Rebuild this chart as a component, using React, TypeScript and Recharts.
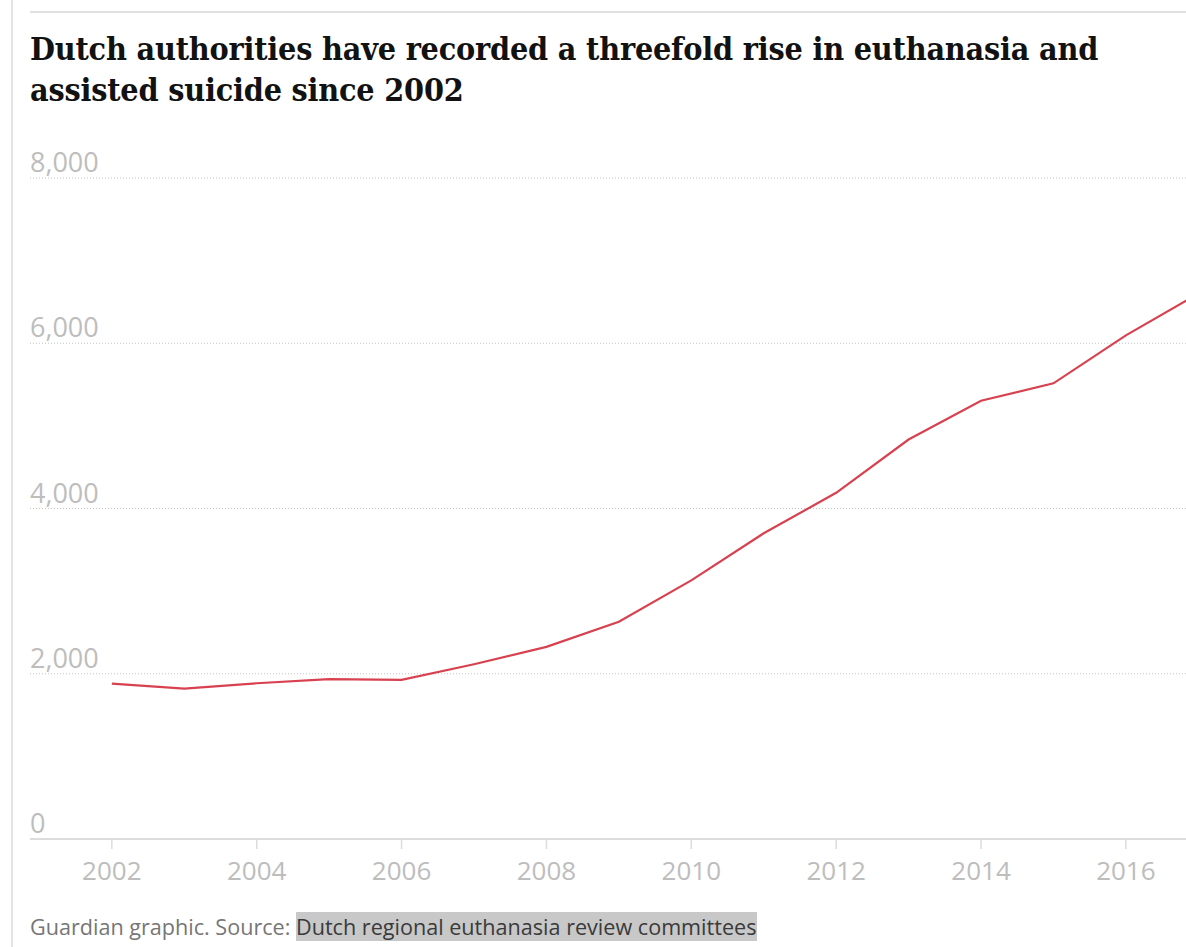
import React from 'react';
import { LineChart, Line, XAxis, YAxis, CartesianGrid } from 'recharts';

// ---- data ----
const years = [2002, 2003, 2004, 2005, 2006, 2007, 2008, 2009, 2010, 2011, 2012, 2013, 2014, 2015, 2016, 2017];
const cases = [1880, 1820, 1885, 1935, 1925, 2115, 2325, 2630, 3130, 3700, 4190, 4835, 5305, 5515, 6095, 6600];
const yTicks = [0, 2000, 4000, 6000, 8000];
const xTicks = [2002, 2004, 2006, 2008, 2010, 2012, 2014, 2016];
const titleLines = [
  'Dutch authorities have recorded a threefold rise in euthanasia and',
  'assisted suicide since 2002',
];
const footerLead = 'Guardian graphic. Source: ';
const footerSource = 'Dutch regional euthanasia review committees';

const data = years.map((y, i) => ({ year: y, cases: cases[i] }));

const SANS = '"Open Sans", "Noto Sans", sans-serif';
const LABEL_GREY = '#bdbdbd';
const RULE_GREY = '#dcdcdc';
const LINE_RED = '#d8414f';

const fmt = (v: number) => v.toLocaleString('en-US');

const renderYTick = (props: any) => {
  const { y, payload } = props;
  return (
    <text x={30} y={Number(y) - 6} textAnchor="start" fill={LABEL_GREY} fontSize={27} fontFamily={SANS}>
      {fmt(payload.value)}
    </text>
  );
};

export default function App() {
  return (
    <div
      style={{
        position: 'absolute',
        left: 0,
        top: 0,
        width: 1186,
        height: 947,
        overflow: 'hidden',
        background: '#ffffff',
      }}
    >
      {/* left rule */}
      <div style={{ position: 'absolute', left: 11, top: 0, width: 2, height: 947, background: '#e4e4e4' }} />
      {/* top rule */}
      <div style={{ position: 'absolute', left: 30, top: 11, width: 1156, height: 2, background: '#e0e0e0' }} />

      {/* title */}
      <div
        style={{
          position: 'absolute',
          left: 30,
          top: 29,
          width: 1150,
          fontFamily: '"DejaVu Serif", serif',
          fontStretch: 'condensed',
          fontWeight: 700,
          fontSize: 32,
          lineHeight: '41px',
          letterSpacing: -0.2,
          color: '#121212',
          whiteSpace: 'nowrap',
        }}
      >
        {titleLines.map((t) => (
          <div key={t}>{t}</div>
        ))}
      </div>

      {/* chart */}
      <div style={{ position: 'absolute', left: 0, top: 0 }}>
        <LineChart
          width={1186}
          height={947}
          data={data}
          margin={{ top: 178, right: 0, left: 0, bottom: 48 }}
        >
          <CartesianGrid
            horizontal={true}
            vertical={false}
            stroke="#c4c4c4"
            strokeDasharray="1 2"
            strokeWidth={1}
          />
          <XAxis
            dataKey="year"
            type="number"
            domain={[2000.87, 2016.83]}
            allowDataOverflow={true}
            ticks={xTicks}
            height={60}
            tickSize={10}
            tickMargin={13}
            axisLine={{ stroke: RULE_GREY, strokeWidth: 2 }}
            tickLine={{ stroke: RULE_GREY, strokeWidth: 1.5 }}
            tick={{ fill: LABEL_GREY, fontSize: 26, fontFamily: SANS }}
            interval={0}
          />
          <YAxis
            type="number"
            domain={[0, 8000]}
            ticks={yTicks}
            width={30}
            axisLine={false}
            tickLine={false}
            tick={renderYTick}
            interval={0}
          />
          <Line
            type="linear"
            dataKey="cases"
            stroke={LINE_RED}
            strokeWidth={2.2}
            dot={false}
            activeDot={false}
            isAnimationActive={false}
          />
        </LineChart>
      </div>

      {/* footer */}
      <div
        style={{
          position: 'absolute',
          left: 30,
          top: 912,
          fontFamily: SANS,
          fontSize: 21.6,
          lineHeight: '30px',
          color: '#767676',
          whiteSpace: 'nowrap',
        }}
      >
        {footerLead}
        <span style={{ background: '#c8c8c8', color: '#3a3a3a' }}>{footerSource}</span>
      </div>
    </div>
  );
}
